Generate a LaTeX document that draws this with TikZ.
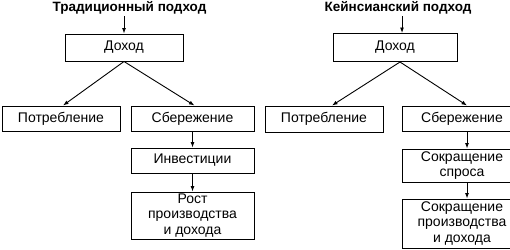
\documentclass[tikz,border=0pt]{standalone}
\usepackage{fontspec}
\setmainfont{Liberation Sans}
\usetikzlibrary{arrows.meta,positioning}
\begin{document}
\begin{tikzpicture}[x=1pt,y=-1pt,
  boxnode/.style={draw,line width=1pt,inner sep=0pt,align=center,
    font=\fontsize{14}{15.5}\selectfont},
  titlenode/.style={font=\bfseries\fontsize{13.5}{15}\selectfont,inner sep=0pt},
  arr/.style={line width=0.9pt,-{Latex[length=5.5pt,width=4pt]}}]
\useasboundingbox (0,0) rectangle (510,249);
\clip (0,0) rectangle (510,249);
% left
\node[titlenode] (t1) at (129.5,7.5) {Традиционный подход};
\node[boxnode,minimum width=118pt,minimum height=27pt] (inc1) at (124,47.5) {Доход};
\node[boxnode,minimum width=118pt,minimum height=25pt] (potr1) at (61,118.5) {Потребление};
\node[boxnode,minimum width=123pt,minimum height=25pt] (sber1) at (192.5,118.5) {Сбережение};
\node[boxnode,minimum width=123pt,minimum height=25pt] (inv1) at (192.5,160.5) {Инвестиции};
\node[boxnode,minimum width=123pt,minimum height=47pt] (rost1) at (192.5,215.5) {Рост\\производства\\и дохода};
\draw[arr] (inc1.north |- t1.south) ++(0,2) -- (inc1.north);
\draw[arr] (inc1.south) -- ([xshift=2pt]potr1.north);
\draw[arr] (inc1.south) -- ([xshift=2pt]sber1.north);
\draw[arr] (sber1.south) -- (inv1.north);
\draw[arr] (inv1.south) -- (rost1.north);
% right
\node[titlenode] (t2) at (398,7.5) {Кейнсианский подход};
\node[boxnode,minimum width=124pt,minimum height=28pt] (inc2) at (395,47.5) {Доход};
\node[boxnode,minimum width=118pt,minimum height=26pt] (potr2) at (324,119) {Потребление};
\node[boxnode,minimum width=120pt,minimum height=25pt] (sber2) at (462,118.5) {Сбережение};
\node[boxnode,minimum width=120pt,minimum height=33pt] (sok1) at (462,165.5) {Сокращение\\спроса};
\node[boxnode,minimum width=120pt,minimum height=49pt] (sok2) at (462,223.5) {Сокращение\\производства\\и дохода};
\draw[arr] ([xshift=7pt]inc2.north |- t2.south) ++(0,2) -- ([xshift=7pt]inc2.north);
\draw[arr] ([xshift=5pt]inc2.south) -- ([xshift=8pt]potr2.north);
\draw[arr] ([xshift=5pt]inc2.south) -- ([xshift=5pt]sber2.north);
\draw[arr] ([xshift=5pt]sber2.south) -- ([xshift=5pt]sok1.north);
\draw[arr] ([xshift=5pt]sok1.south) -- ([xshift=5pt]sok2.north);
\end{tikzpicture}
\end{document}
